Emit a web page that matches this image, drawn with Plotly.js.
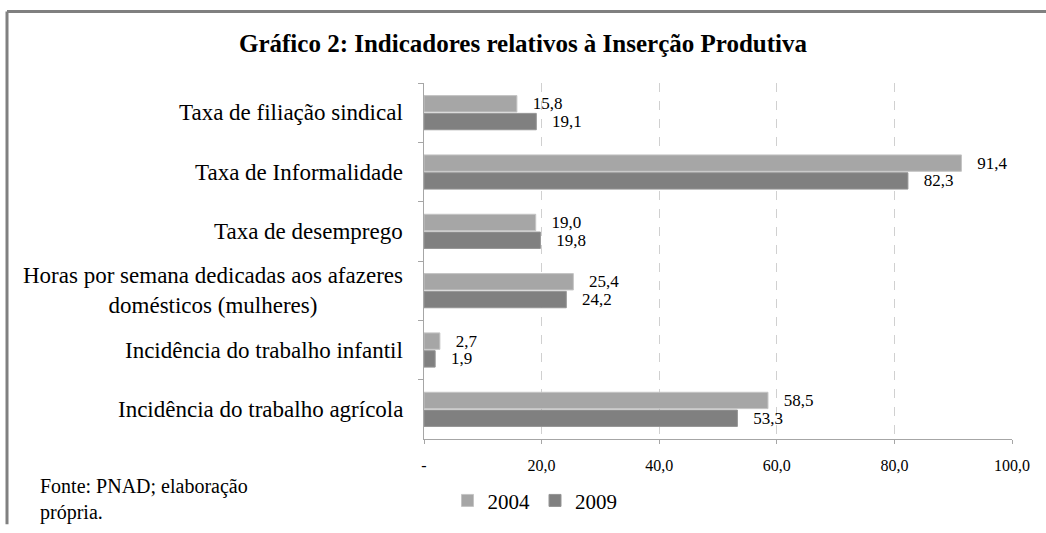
<!DOCTYPE html>
<html>
<head>
<meta charset="utf-8">
<script src="https://cdn.plot.ly/plotly-3.0.1.min.js"></script>
<style>html,body{margin:0;padding:0;background:#fff;}#chart{width:1046px;height:533px;}</style>
</head>
<body>
<div id="chart"></div>
<script>
const categories = [
  "Taxa de filiação sindical",
  "Taxa de Informalidade",
  "Taxa de desemprego",
  "Horas por semana dedicadas aos afazeres<br>domésticos (mulheres)",
  "Incidência do trabalho infantil",
  "Incidência do trabalho agrícola"
];
const values2004 = [15.8, 91.4, 19.0, 25.4, 2.7, 58.5];
const values2009 = [19.1, 82.3, 19.8, 24.2, 1.9, 53.3];
const seriesNames = ["2004", "2009"];
const xTickVals = [0, 20, 40, 60, 80, 100];
const xTickText = ["-", "20,0", "40,0", "60,0", "80,0", "100,0"];
const titleText = "Gráfico 2: Indicadores relativos à Inserção Produtiva";
const sourceText = "Fonte: PNAD; elaboração<br>própria.";

const serif = "Liberation Serif, Times New Roman, serif";
const W = 1046, H = 533;
const L = 424, R = 34, T = 83, B = 87;
const pw = W - L - R, ph = H - T - B;
const px = v => (v - L) / pw;
const py = v => (H - B - v) / ph;

function barTrace(name, vals, color, lineColor) {
  return {
    type: "bar", orientation: "h", name: name,
    y: categories, x: vals,
    marker: {color: color, line: {color: lineColor, width: 1}},
    texttemplate: "\u00a0\u00a0\u00a0%{x:.1f}",
    textposition: "outside",
    constraintext: "none",
    cliponaxis: false,
    textfont: {family: serif, size: 17, color: "#000"},
    hoverinfo: "skip"
  };
}

const data = [
  barTrace(seriesNames[0], values2004, "#a6a6a6", "#c4c4c4"),
  barTrace(seriesNames[1], values2009, "#808080", "#959595")
];

const annotations = categories.map(c => ({
  xref: "paper", yref: "y", x: 0, y: c, xanchor: "right", yanchor: "middle",
  xshift: -19, align: "center", showarrow: false, text: c,
  font: {family: serif, size: 23, color: "#000"}
}));
annotations.push({
  xref: "paper", yref: "paper", x: px(38), y: py(481), xanchor: "left", yanchor: "top",
  align: "left", showarrow: false, text: sourceText,
  font: {family: serif, size: 20, color: "#000"}
});

const layout = {
  width: W, height: H,
  margin: {l: L, r: R, t: T, b: B, pad: 0},
  paper_bgcolor: "#fff", plot_bgcolor: "#fff",
  separators: ",.",
  title: {text: "<b>" + titleText + "</b>", x: 0.5, xanchor: "center", y: 1 - 43 / H, yanchor: "middle", yref: "container",
          font: {family: serif, size: 25, color: "#000"}},
  barmode: "group", bargap: 0.4, bargroupgap: 0.08,
  showlegend: true,
  legend: {orientation: "h", x: px(535), xanchor: "center", y: py(509), yanchor: "middle",
           font: {family: serif, size: 21, color: "#000"}, traceorder: "normal",
           itemwidth: 30, tracegroupgap: 0, bgcolor: "rgba(0,0,0,0)"},
  xaxis: {range: [0, 100], tickvals: xTickVals, ticktext: xTickText, showgrid: true,
          gridcolor: "#d0d0d0", griddash: "dash", gridwidth: 1, zeroline: false,
          showline: true, linecolor: "#a6a6a6", linewidth: 1,
          ticks: "outside", ticklen: 4, tickcolor: "#a6a6a6", ticklabelstandoff: 8,
          tickfont: {family: serif, size: 16, color: "#000"}, fixedrange: true},
  yaxis: {type: "category", autorange: "reversed", showticklabels: false,
          showline: true, linecolor: "#a6a6a6", linewidth: 1, showgrid: false, zeroline: false,
          ticks: "outside", tickson: "boundaries", ticklen: 5, tickcolor: "#a6a6a6", fixedrange: true},
  annotations: annotations,
  shapes: [
    {type: "line", xref: "paper", yref: "paper", x0: px(7), x1: px(1046), y0: py(10), y1: py(10),
     line: {color: "#808080", width: 3}},
    {type: "line", xref: "paper", yref: "paper", x0: px(7), x1: px(7), y0: py(10), y1: py(533),
     line: {color: "#808080", width: 3}}
  ]
};

Plotly.newPlot("chart", data, layout, {displayModeBar: false, staticPlot: true});
</script>
</body>
</html>
